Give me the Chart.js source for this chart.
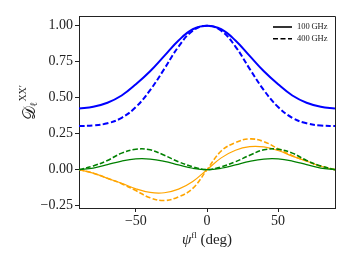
<!DOCTYPE html>
<html>
<head>
<meta charset="utf-8">
<script src="https://cdn.jsdelivr.net/npm/chart.js@4.4.0/dist/chart.umd.min.js"></script>
<style>
  html, body { margin: 0; padding: 0; background: #fff; }
</style>
</head>
<body>
<canvas id="chart" width="352" height="264"></canvas>
<script>
// psi^fl in degrees, sampled every 10 deg
const psi = [-90, -80, -70, -60, -50, -40, -30, -20, -10, 0, 10, 20, 30, 40, 50, 60, 70, 80, 90];

// blue (main) curves
const blue100 = [0.424, 0.437, 0.465, 0.515, 0.593, 0.683, 0.790, 0.897, 0.975, 1.000, 0.975, 0.897, 0.790, 0.683, 0.593, 0.515, 0.465, 0.437, 0.424];
const blue400 = [0.303, 0.307, 0.322, 0.360, 0.435, 0.552, 0.700, 0.855, 0.965, 1.000, 0.965, 0.855, 0.700, 0.552, 0.435, 0.360, 0.322, 0.307, 0.303];
// green curves
const green100 = [0.000, 0.011, 0.035, 0.060, 0.075, 0.074, 0.058, 0.033, 0.010, 0.000, 0.010, 0.033, 0.058, 0.074, 0.075, 0.060, 0.035, 0.011, 0.000];
const green400 = [0.000, 0.026, 0.064, 0.115, 0.142, 0.138, 0.100, 0.055, 0.020, 0.000, 0.020, 0.055, 0.100, 0.138, 0.142, 0.115, 0.064, 0.026, 0.000];
// orange curves
const orange100 = [0.000, -0.024, -0.060, -0.094, -0.133, -0.158, -0.160, -0.135, -0.082, 0.000, 0.082, 0.135, 0.160, 0.158, 0.133, 0.094, 0.060, 0.024, 0.000];
const orange400 = [0.000, -0.024, -0.060, -0.097, -0.145, -0.195, -0.214, -0.188, -0.130, 0.000, 0.130, 0.188, 0.214, 0.195, 0.145, 0.097, 0.060, 0.024, 0.000];

const xTicks = [-50, 0, 50];
const yTicks = [-0.25, 0.00, 0.25, 0.50, 0.75, 1.00];
const legendLabels = ["100\u2009GHz", "400\u2009GHz"];

const SERIF = "'Liberation Serif', 'DejaVu Serif', serif";

function pts(ys){
  return psi.map((x, i) => ({x: x, y: ys[i]}));
}
function minus(s){ return s.replace("-", "\u2212"); }

function line(data, color, width, dash){
  return {
    data: pts(data),
    borderColor: color,
    backgroundColor: color,
    borderWidth: width,
    borderDash: dash,
    pointRadius: 0,
    fill: false,
    tension: 0.4
  };
}

// frame on top and right, like the other two spines
const framePlugin = {
  id: "frame",
  afterDraw(chart){
    const a = chart.chartArea, ctx = chart.ctx;
    ctx.save();
    ctx.strokeStyle = "#222";
    ctx.lineWidth = 1;
    ctx.beginPath();
    ctx.moveTo(a.left, a.top + 0.5);
    ctx.lineTo(a.right + 0.5, a.top + 0.5);
    ctx.lineTo(a.right + 0.5, a.bottom);
    ctx.stroke();
    ctx.restore();
  }
};

// draws a run of text pieces (with sub/superscripts) centred on cx
function richText(ctx, parts, cx, y){
  let w = 0;
  parts.forEach(p => {
    ctx.font = p.font;
    p.w = ctx.measureText(p.t).width;
    if (!p.stack) w += p.w;
  });
  let x = cx - w / 2, lastX = x;
  parts.forEach(p => {
    ctx.font = p.font;
    const px = p.stack ? lastX : x;
    ctx.fillText(p.t, px, y + (p.dy || 0));
    if (!p.stack){ lastX = x + p.w; x += p.w; }
  });
}

const titlePlugin = {
  id: "titles",
  afterDraw(chart){
    const ctx = chart.ctx, a = chart.chartArea;
    ctx.save();
    ctx.fillStyle = "#222";
    ctx.textBaseline = "alphabetic";
    ctx.textAlign = "left";
    // x title
    richText(ctx, [
      {t: "\u03c8", font: "italic 15px " + SERIF},
      {t: "fl", font: "9px " + SERIF, dy: -6.5},
      {t: " (deg)", font: "15px " + SERIF}
    ], (a.left + a.right) / 2, 244);
    // y title, rotated
    ctx.translate(35, 111);
    ctx.rotate(-Math.PI / 2);
    richText(ctx, [
      {t: "\ud835\udc9f", font: "17px 'DejaVu Serif', 'DejaVu Sans', serif"},
      {t: "\u2113", font: "10px " + SERIF, dy: 2},
      {t: "XX\u2032", font: "10px " + SERIF, dy: -9, stack: true}
    ], 0, 0);
    ctx.restore();
  }
};

const legendPlugin = {
  id: "lineLegend",
  afterDraw(chart){
    const ctx = chart.ctx;
    const rows = [27, 38.7];
    ctx.save();
    ctx.strokeStyle = "#000";
    ctx.fillStyle = "#222";
    ctx.lineWidth = 1.6;
    ctx.font = "8.5px " + SERIF;
    ctx.textBaseline = "middle";
    rows.forEach((y, i) => {
      ctx.setLineDash(i === 0 ? [] : [5, 2.5]);
      ctx.beginPath();
      ctx.moveTo(273, y);
      ctx.lineTo(292, y);
      ctx.stroke();
      ctx.fillText(legendLabels[i], 297, y);
    });
    ctx.restore();
  }
};

const tickFont = {family: SERIF, size: 14};

new Chart(document.getElementById("chart"), {
  type: "line",
  data: {
    datasets: [
      line(blue100, "#0000ff", 2, []),
      line(blue400, "#0000ff", 2, [5.5, 2.5]),
      line(green100, "#008000", 1.2, []),
      line(green400, "#008000", 1.6, [5, 2.2]),
      line(orange100, "#ffa500", 1.2, []),
      line(orange400, "#ffa500", 1.6, [5, 2.2])
    ]
  },
  options: {
    responsive: false,
    animation: false,
    devicePixelRatio: 1,
    layout: {padding: {top: 16, right: 17, bottom: 8, left: 0}},
    plugins: {legend: {display: false}, tooltip: {enabled: false}},
    scales: {
      x: {
        type: "linear",
        min: -90,
        max: 90,
        afterBuildTicks: s => { s.ticks = xTicks.map(v => ({value: v})); },
        afterFit: s => { s.height = 48; },
        ticks: {
          font: tickFont,
          color: "#222",
          padding: 1,
          maxRotation: 0,
          callback: v => minus(String(v))
        },
        grid: {drawOnChartArea: false, tickLength: 4, color: "#222"},
        border: {color: "#222", width: 1}
      },
      y: {
        min: -0.266,
        max: 1.067,
        afterBuildTicks: s => { s.ticks = yTicks.map(v => ({value: v})); },
        afterFit: s => { s.width = 79; },
        ticks: {
          font: tickFont,
          color: "#222",
          padding: 2,
          callback: v => minus(Number(v).toFixed(2))
        },
        grid: {drawOnChartArea: false, tickLength: 4, color: "#222"},
        border: {color: "#222", width: 1}
      }
    }
  },
  plugins: [framePlugin, titlePlugin, legendPlugin]
});
</script>
</body>
</html>
